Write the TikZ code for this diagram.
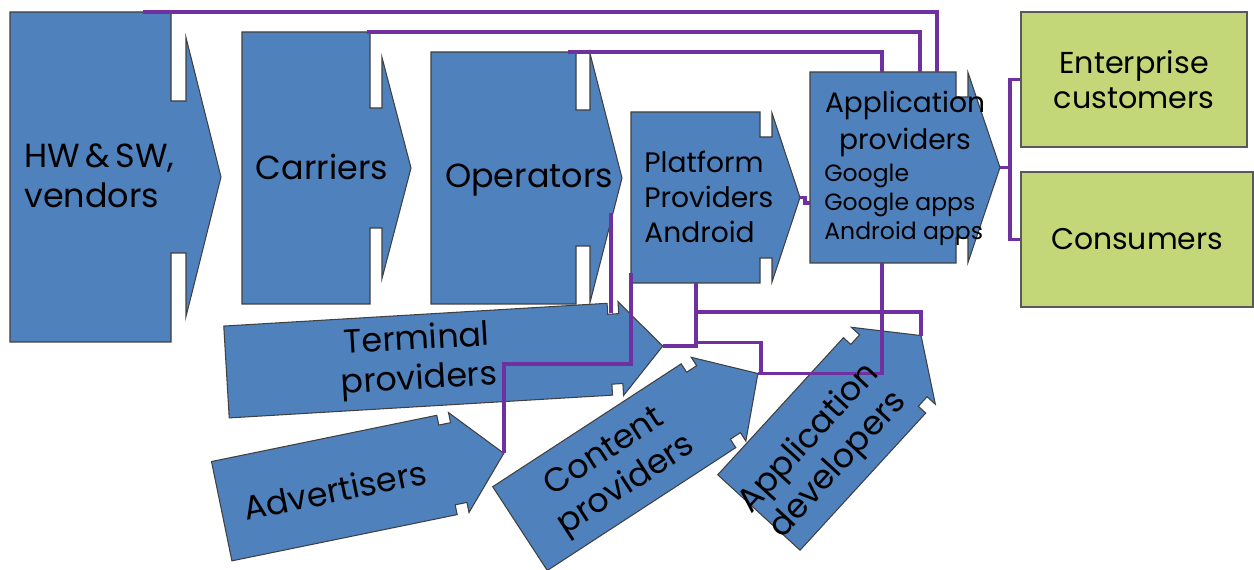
\documentclass[tikz,border=0pt]{standalone}
\usepackage{fontspec}
\setmainfont{Poppins}
\definecolor{blu}{RGB}{79,129,189}
\definecolor{grn}{RGB}{195,214,120}
\definecolor{purp}{RGB}{112,48,160}
\tikzset{
  box/.style={fill=blu, draw=black!75, line width=0.6pt, line join=miter},
  cust/.style={fill=grn, draw=black!65, line width=0.8pt, align=center, inner sep=0pt},
  link/.style={purp, line width=2.1pt},
  lbl/.style={font=\fontsize{19}{22.5}\selectfont, align=center, inner sep=0pt},
  plbl/.style={font=\fontsize{16}{20}\selectfont, align=left, inner sep=0pt},
  smlbl/.style={font=\fontsize{13.4}{16.5}\selectfont, align=left, inner sep=0pt},
}

\begin{document}
\begin{tikzpicture}[x=0.02cm, y=-0.02cm]
\useasboundingbox (0,0) rectangle (1254,570);
% notched arrows: name/x/y/angle/body/notch/half/depth/head/tip
\foreach \nm/\px/\py/\rot/\blen/\nwid/\hhalf/\ndep/\ahead/\tlen in
  {hw/10/177/0/161/15/165/89/139.5/35, ca/242/168/0/128/12/136/76/110.5/29,
   op/431/178/0/145/14/126/58/124.5/32, pl/631/197.5/0/129/12/85.5/25/84.5/28,
   ap/810/167.5/0/146/12/95.5/25/95/32, tp/226.5/372/3.4/384/11/46/11/47/42,
   adv/221.7/511.2/11.6/230/12/50.7/10/51/46, cp/520/528.6/33.1/225/12/50/10/50/47,
   ad/758.9/512.5/47.5/186/13/55.8/10/57/41}
{
  \begin{scope}[shift={(\px,\py)}, rotate=\rot]
    \draw[box] (0,-\hhalf) -- (\blen,-\hhalf) -- (\blen,-\hhalf+\ndep) -- (\blen+\nwid,-\hhalf+\ndep)
      -- (\blen+\nwid,-\ahead) -- (\blen+\nwid+\tlen,0) -- (\blen+\nwid,\ahead)
      -- (\blen+\nwid,\hhalf-\ndep) -- (\blen,\hhalf-\ndep) -- (\blen,\hhalf) -- (0,\hhalf) -- cycle;
    \coordinate (\nm-tip) at (\blen+\nwid+\tlen,0);
  \end{scope}
}

% customers
\node[cust, minimum width=4.52cm, minimum height=2.7cm, font=\fontsize{17.2}{20}\selectfont] (ent) at (1134,79.5) {Enterprise\\customers};
\node[cust, minimum width=4.64cm, minimum height=2.7cm, font=\fontsize{17}{20}\selectfont] (con) at (1137,239.5) {Consumers};

% connection points
\coordinate (hw-c) at (143,12);
\coordinate (ca-c) at (367,32);
\coordinate (op-c) at (568,52);
\coordinate (op-se) at (611,213);
\coordinate (ap-c1) at (937,72);
\coordinate (ap-c2) at (920,72);
\coordinate (ap-c3) at (882,72);
\coordinate (ap-w) at (810,203);
\coordinate (ap-s) at (882,263);
\coordinate (pl-s) at (696,283);
\coordinate (pl-sw) at (631,273);
\coordinate (tp-n) at (611,313);

% links
\draw[link] (hw-c) -| (ap-c1);
\draw[link] (ca-c) -| (ap-c2);
\draw[link] (op-c) -| (ap-c3);
\draw[link] (pl-tip) -- ++(5,0) |- (ap-w);
\draw[link] (ap-tip) -- ++(10,0) |- (ent.west);
\draw[link] (ap-tip) -- ++(10,0) |- (con.west);
\draw[link] (op-se) -- (tp-n);
\draw[link] (adv-tip) |- (631,364) -- (pl-sw);
\draw[link] (pl-s) -- ++(0,29) -| (ad-tip);
\draw[link] (tp-tip) -| (pl-s);
\draw[link] (cp-tip) -| (ap-s);
\draw[link] (cp-tip) -- ++(3,0) -- ++(0,-31) -| (pl-s);

% labels
\node[lbl, align=left, anchor=west] (hw-txt) at (24,176) {HW\,\&\,SW,\\vendors};
\node[lbl] (ca-txt) at (322,167) {Carriers};
\node[lbl] (op-txt) at (529,180) {Operators};
\node[plbl, anchor=west] (pl-txt) at (644,197) {Platform\\Providers\\Android};
\node[lbl, font=\fontsize{16}{21}\selectfont] (ap-txt) at (905,124) {Application\\providers};
\node[smlbl, anchor=west] (ap-sub) at (824,205) {Google\\Google apps\\Android apps};
\node[lbl, rotate=3.4] (tp-txt) at (418,361) {Terminal\\providers};
\node[lbl, rotate=11.6] (adv-txt) at (335,490) {Advertisers};
\node[lbl, rotate=33] (cp-txt) at (616,470) {Content\\providers};
\node[lbl, rotate=47.5] (ad-txt) at (824,452) {Application\\developers};
\end{tikzpicture}
\end{document}
